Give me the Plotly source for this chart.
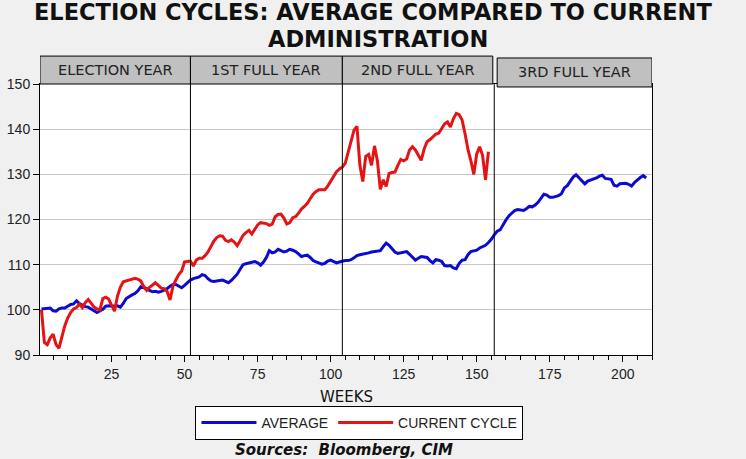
import plotly.graph_objects as go

# ---------------- data ----------------
average = [
    100.2, 100.3, 100.3, 100.4, 99.8, 99.7, 100.2, 100.4, 100.4, 100.8,
    101.2, 101.3, 102.0, 101.4, 101.0, 100.7, 100.6, 100.1, 99.8, 99.4,
    99.7, 100.1, 100.8, 100.9, 100.8, 100.9, 100.9, 100.6, 101.4, 102.5,
    103.0, 103.3, 103.6, 104.2, 105.1, 104.9, 104.7, 104.3, 104.0, 104.1,
    103.9, 104.1, 104.4, 104.7, 105.2, 105.6, 105.6, 105.3, 104.9, 105.4,
    106.1, 106.6, 106.9, 107.1, 107.3, 107.8, 107.6, 106.9, 106.4, 106.3,
    106.4, 106.5, 106.6, 106.3, 106.0, 106.5, 107.1, 107.9, 109.0, 110.0,
    110.2, 110.4, 110.5, 110.7, 110.4, 109.9, 110.6, 111.6, 113.1, 112.6,
    112.8, 113.4, 113.1, 112.8, 113.0, 113.4, 113.2, 112.9, 112.4, 111.8,
    112.0, 112.1, 111.6, 110.9, 110.6, 110.4, 110.1, 110.3, 110.8, 111.0,
    110.7, 110.4, 110.6, 110.8, 110.9, 110.9, 111.1, 111.5, 112.0, 112.2,
    112.3, 112.4, 112.6, 112.8, 112.9, 113.0, 113.1, 114.0, 114.8, 114.3,
    113.6, 112.8, 112.5, 112.6, 112.7, 112.9, 112.3, 111.6, 111.0, 111.4,
    111.8, 111.7, 111.6, 110.9, 110.4, 111.1, 111.0, 110.7, 109.8, 109.7,
    109.8, 109.3, 109.1, 110.3, 111.0, 111.1, 112.2, 112.9, 113.0, 113.2,
    113.7, 114.0, 114.3, 114.9, 115.6, 116.6, 117.4, 117.7, 118.9, 119.9,
    120.8, 121.5, 122.0, 122.2, 122.1, 122.0, 122.4, 122.9, 122.8, 123.2,
    123.8, 124.6, 125.6, 125.4, 124.9, 124.9, 125.1, 125.3, 125.7, 127.0,
    127.5, 128.4, 129.4, 129.9, 129.2, 128.4, 127.9, 128.5, 128.7, 129.0,
    129.2, 129.6, 129.8, 129.1, 129.0, 128.9, 127.6, 127.4, 127.9, 128.0,
    128.0, 127.8, 127.4, 128.2, 128.8, 129.3, 129.7, 129.2,
]

current_cycle = [
    100.0, 92.8, 92.3, 93.8, 94.6, 92.3, 91.5, 94.3, 96.5, 98.2,
    99.4, 100.2, 100.5, 101.3, 100.5, 101.6, 102.3, 101.5, 100.6, 100.2,
    100.0, 102.5, 102.8, 102.4, 101.0, 99.7, 103.0, 105.0, 106.2, 106.4,
    106.5, 106.8, 107.0, 106.8, 106.4, 105.2, 104.3, 105.0, 105.6, 106.0,
    105.4, 104.8, 104.7, 104.1, 102.2, 105.2, 106.6, 107.8, 108.6, 110.6,
    110.7, 110.8, 109.7, 111.0, 111.4, 111.4, 112.0, 112.8, 114.0, 115.2,
    116.0, 116.4, 116.3, 115.4, 115.1, 115.5, 115.0, 114.2, 115.3, 116.5,
    117.1, 117.6, 116.8, 117.8, 118.8, 119.3, 119.2, 119.1, 118.7, 119.0,
    120.6, 121.1, 121.2, 120.3, 119.0, 119.3, 120.4, 120.6, 121.4, 122.3,
    122.9, 123.6, 124.6, 125.6, 126.2, 126.6, 126.6, 126.6, 127.4, 128.5,
    129.3, 130.6, 131.2, 131.6, 132.5, 134.8, 137.0, 139.8, 140.6, 132.0,
    128.4, 134.0, 134.4, 132.0, 136.3, 133.0, 126.7, 128.8, 127.3, 130.2,
    130.4, 130.5, 132.0, 133.3, 133.0, 133.4, 135.4, 136.1, 135.4, 134.3,
    133.1, 135.6, 137.2, 137.7, 138.4, 138.9, 139.1, 140.1, 141.2, 141.6,
    140.5, 142.3, 143.5, 143.2, 142.0, 139.0, 135.5, 133.0, 130.0, 134.5,
    136.1, 134.2, 128.8, 135.0,
]

weeks_avg = list(range(1, len(average) + 1))
weeks_cur = list(range(1, len(current_cycle) + 1))

year_labels = ["ELECTION YEAR", "1ST FULL YEAR", "2ND FULL YEAR", "3RD FULL YEAR"]
year_bounds = [0.5, 52, 104, 156, 210]
x_ticks = [25, 50, 75, 100, 125, 150, 175, 200]
y_ticks = [90, 100, 110, 120, 130, 140, 150]

FONT = "Liberation Sans, Arial, sans-serif"
WIDE = "DejaVu Sans, Liberation Sans, sans-serif"

fig = go.Figure()
fig.add_trace(go.Scatter(x=weeks_avg, y=average, mode="lines", name="AVERAGE",
                         line=dict(color="#0a0ad2", width=3)))
fig.add_trace(go.Scatter(x=weeks_cur, y=current_cycle, mode="lines", name="CURRENT CYCLE",
                         line=dict(color="#e41414", width=3)))

shapes = []
for b in year_bounds[1:-1]:
    shapes.append(dict(type="line", xref="x", yref="paper", x0=b, x1=b, y0=0, y1=1,
                       line=dict(color="black", width=1)))

annotations = []
for i, lab in enumerate(year_labels):
    x0 = year_bounds[i]
    x1 = year_bounds[i + 1]
    if i == 2:
        x1 = 155.5
    if i == 3:
        x0 = 157
        y0, y1 = 0.989, 1.096
    else:
        y0, y1 = 1.0, 1.103
    shapes.append(dict(type="rect", xref="x", yref="paper", x0=x0, x1=x1, y0=y0, y1=y1,
                       fillcolor="#c0c0c0", line=dict(color="black", width=1), layer="above"))
    annotations.append(dict(x=(x0 + x1) / 2, y=(y0 + y1) / 2,
                            xref="x", yref="paper", text=lab, showarrow=False,
                            font=dict(family=WIDE, size=14.5, color="#222222"),
                            xanchor="center", yanchor="middle"))


def pix_ann(text, px, py, size, family=FONT, bold=False, italic=False, color="#111111"):
    t = text
    if bold:
        t = "<b>" + t + "</b>"
    if italic:
        t = "<i>" + t + "</i>"
    return dict(x=(px - 40) / 612, y=(355 - py) / 271, xref="paper", yref="paper", text=t,
                showarrow=False, xanchor="center", yanchor="middle",
                font=dict(family=family, size=size, color=color))


annotations.append(pix_ann("ELECTION CYCLES: AVERAGE COMPARED TO CURRENT", 373, 12.5, 22.5, family=WIDE, bold=True))
annotations.append(pix_ann("ADMINISTRATION", 378, 39, 22.5, family=WIDE, bold=True))
annotations.append(pix_ann("WEEKS", 346, 397, 15, family=WIDE))
annotations.append(pix_ann("Sources:  Bloomberg, CIM", 344, 450, 15, family=WIDE, bold=True, italic=True))

fig.update_layout(
    width=746, height=459, autosize=False,
    margin=dict(l=40, r=94, t=84, b=104, autoexpand=False),
    paper_bgcolor="#f0f0f0", plot_bgcolor="white",
    font=dict(family=FONT, size=14, color="#222222"),
    showlegend=True,
    legend=dict(orientation="h", x=0.522, xanchor="center", y=-0.188, yanchor="top",
                bgcolor="white", bordercolor="black", borderwidth=1,
                font=dict(family=FONT, size=14, color="#222222"),
                itemwidth=55, tracegroupgap=0),
    shapes=shapes, annotations=annotations,
)
fig.update_xaxes(range=[0.5, 210], tickvals=x_ticks, ticks="outside", ticklen=6, tickcolor="black",
                 showgrid=False, zeroline=False, showline=True, linecolor="black", linewidth=1,
                 mirror=True, automargin=False, tickfont=dict(family=FONT, size=14, color="#222222"),
                 minor=dict(dtick=5, tick0=0, ticks="outside", ticklen=4, tickcolor="black",
                            showgrid=False))
fig.update_yaxes(range=[90, 150], tickvals=y_ticks, ticks="outside", ticklen=6, tickcolor="black",
                 showgrid=True, gridcolor="#c8c8c8", gridwidth=1, zeroline=False,
                 showline=True, linecolor="black", linewidth=1, mirror=True, automargin=False,
                 tickfont=dict(family=FONT, size=14, color="#222222"))

fig.write_html("out.html", config={"displayModeBar": False},
               post_script="document.body.style.margin='0px';")
